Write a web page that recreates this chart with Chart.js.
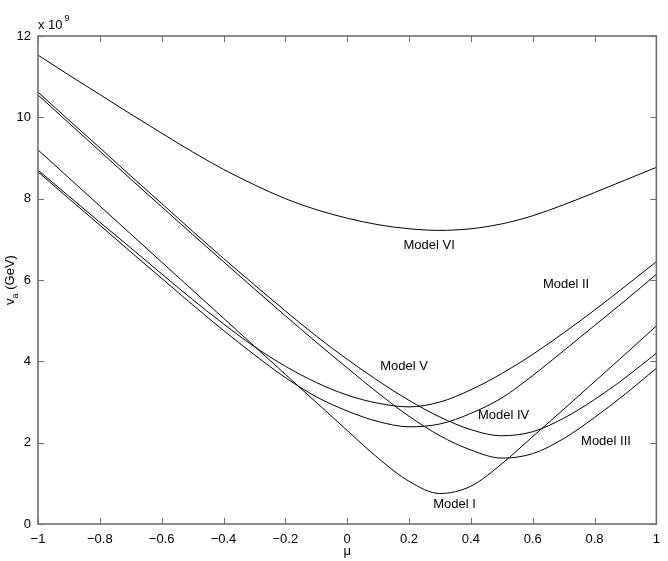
<!DOCTYPE html>
<html>
<head>
<meta charset="utf-8">
<script src="https://cdn.jsdelivr.net/npm/chart.js@4.4.1/dist/chart.umd.min.js"></script>
<style>
  html, body { margin: 0; padding: 0; background: #fff; }
  #wrap { width: 668px; height: 561px; position: relative; }
</style>
</head>
<body>
<div id="wrap"><canvas id="va-chart"></canvas></div>
<script>
// mu grid (x axis)
var mu = [-1, -0.9, -0.8, -0.7, -0.6, -0.5, -0.4, -0.3, -0.2, -0.1, 0,
          0.1, 0.2, 0.3, 0.4, 0.5, 0.6, 0.7, 0.8, 0.9, 1];

// v_a in units of 1e9 GeV
var modelI   = [9.2, 8.51, 7.82, 7.13, 6.44, 5.75, 5.06, 4.37, 3.68, 2.99, 2.30, 1.62, 1.05, 0.75, 0.93, 1.48, 2.15, 2.82, 3.5, 4.18, 4.87];
var modelII  = [8.66, 8.0, 7.35, 6.69, 6.04, 5.39, 4.76, 4.16, 3.6, 3.13, 2.78, 2.52, 2.39, 2.46, 2.72, 3.1, 3.65, 4.26, 4.88, 5.5, 6.14];
var modelIII = [10.55, 9.86, 9.17, 8.48, 7.8, 7.12, 6.45, 5.78, 5.12, 4.47, 3.84, 3.22, 2.65, 2.17, 1.82, 1.62, 1.73, 2.1, 2.62, 3.2, 3.83];
var modelIV  = [10.62, 9.93, 9.25, 8.56, 7.88, 7.2, 6.53, 5.88, 5.24, 4.62, 4.05, 3.52, 3.04, 2.63, 2.32, 2.17, 2.27, 2.6, 3.06, 3.6, 4.2];
var modelV   = [8.70, 8.06, 7.42, 6.79, 6.15, 5.52, 4.92, 4.36, 3.88, 3.48, 3.17, 2.97, 2.88, 3.0, 3.3, 3.7, 4.17, 4.7, 5.26, 5.85, 6.45];
var modelVI  = [11.53, 11.04, 10.56, 10.08, 9.61, 9.15, 8.72, 8.34, 8.0, 7.73, 7.52, 7.36, 7.26, 7.22, 7.26, 7.38, 7.58, 7.85, 8.15, 8.46, 8.77];

// in-plot curve labels (data coordinates)
var labelText = ['Model I', 'Model II', 'Model III', 'Model IV', 'Model V', 'Model VI'];
var labelMu   = [0.347, 0.708, 0.837, 0.506, 0.184, 0.265];
var labelV    = [0.49, 5.88, 2.04, 2.68, 3.87, 6.86];

var FONT = '"Liberation Sans", Arial, Helvetica, sans-serif';
var FRAME = '#6e6e6e';

function toPoints(ys) {
    var pts = [];
    for (var i = 0; i < mu.length; i++) {
        pts.push({ x: mu[i], y: ys[i] });
    }
    return pts;
}

function makeSet(name, ys) {
    return {
        label: name,
        data: toPoints(ys),
        borderColor: '#000',
        borderWidth: 1,
        pointRadius: 0,
        fill: false,
        cubicInterpolationMode: 'monotone'
    };
}

function fmtTick(v) {
    var r = Math.round(v * 10) / 10;
    if (r === 0) return '0';
    return (r < 0 ? '\u2212' : '') + String(Math.abs(r));
}

// frame, inward ticks, axis titles, curve labels
var decorations = {
    id: 'decorations',
    afterDraw: function (chart) {
        var ctx = chart.ctx;
        var a = chart.chartArea;
        var xs = chart.scales.x;
        var ys = chart.scales.y;
        var tl = 6;
        ctx.save();
        ctx.strokeStyle = FRAME;
        ctx.lineWidth = 1.6;
        ctx.strokeRect(a.left, a.top, a.right - a.left, a.bottom - a.top);
        ctx.lineWidth = 1;
        ctx.beginPath();
        xs.ticks.forEach(function (t) {
            var px = Math.round(xs.getPixelForValue(t.value)) + 0.5;
            ctx.moveTo(px, a.bottom); ctx.lineTo(px, a.bottom - tl);
            ctx.moveTo(px, a.top); ctx.lineTo(px, a.top + tl);
        });
        ys.ticks.forEach(function (t) {
            var py = Math.round(ys.getPixelForValue(t.value)) + 0.5;
            ctx.moveTo(a.left, py); ctx.lineTo(a.left + tl, py);
            ctx.moveTo(a.right, py); ctx.lineTo(a.right - tl, py);
        });
        ctx.stroke();

        ctx.fillStyle = '#000';
        // curve labels
        ctx.font = '13px ' + FONT;
        ctx.textAlign = 'center';
        ctx.textBaseline = 'middle';
        for (var i = 0; i < labelText.length; i++) {
            ctx.fillText(labelText[i], xs.getPixelForValue(labelMu[i]), ys.getPixelForValue(labelV[i]));
        }

        // x title
        ctx.font = '13px ' + FONT;
        ctx.fillText('\u03bc', (a.left + a.right) / 2, 551);

        // exponent
        ctx.textAlign = 'left';
        ctx.textBaseline = 'alphabetic';
        ctx.font = '13px ' + FONT;
        ctx.fillText('x 10', a.left, 29);
        var w = ctx.measureText('x 10').width;
        ctx.font = '9px ' + FONT;
        ctx.fillText('9', a.left + w + 2, 21);

        // y title: v_a (GeV), rotated
        ctx.translate(14, (a.top + a.bottom) / 2);
        ctx.rotate(-Math.PI / 2);
        ctx.font = '13px ' + FONT;
        var wv = ctx.measureText('v').width;
        var wr = ctx.measureText(' (GeV)').width;
        ctx.font = '9px ' + FONT;
        var wa = ctx.measureText('a').width;
        var start = -(wv + wa + wr) / 2;
        ctx.font = '13px ' + FONT;
        ctx.fillText('v', start, 0);
        ctx.font = '9px ' + FONT;
        ctx.fillText('a', start + wv, 4);
        ctx.font = '13px ' + FONT;
        ctx.fillText(' (GeV)', start + wv + wa, 0);
        ctx.restore();
    }
};

var ctx = document.getElementById('va-chart').getContext('2d');
var chart = new Chart(ctx, {
    type: 'line',
    data: {
        datasets: [
            makeSet('Model I', modelI),
            makeSet('Model II', modelII),
            makeSet('Model III', modelIII),
            makeSet('Model IV', modelIV),
            makeSet('Model V', modelV),
            makeSet('Model VI', modelVI)
        ]
    },
    options: {
        responsive: true,
        maintainAspectRatio: false,
        animation: false,
        layout: { padding: { top: 36, right: 10, left: 0, bottom: 0 } },
        plugins: {
            legend: { display: false },
            tooltip: { enabled: false }
        },
        scales: {
            x: {
                type: 'linear',
                min: -1,
                max: 1,
                grid: { display: false, drawTicks: false },
                border: { display: false },
                ticks: {
                    stepSize: 0.2,
                    autoSkip: false,
                    maxRotation: 0,
                    padding: 8,
                    color: '#000',
                    font: { family: FONT, size: 13 },
                    callback: function (v) { return fmtTick(v); }
                },
                afterFit: function (s) { s.height = 37; }
            },
            y: {
                min: 0,
                max: 12,
                grid: { display: false, drawTicks: false },
                border: { display: false },
                ticks: {
                    stepSize: 2,
                    padding: 7,
                    color: '#000',
                    font: { family: FONT, size: 13 },
                    callback: function (v) { return fmtTick(v); }
                },
                afterFit: function (s) { s.width = 38; }
            }
        }
    },
    plugins: [decorations]
});
</script>
</body>
</html>
